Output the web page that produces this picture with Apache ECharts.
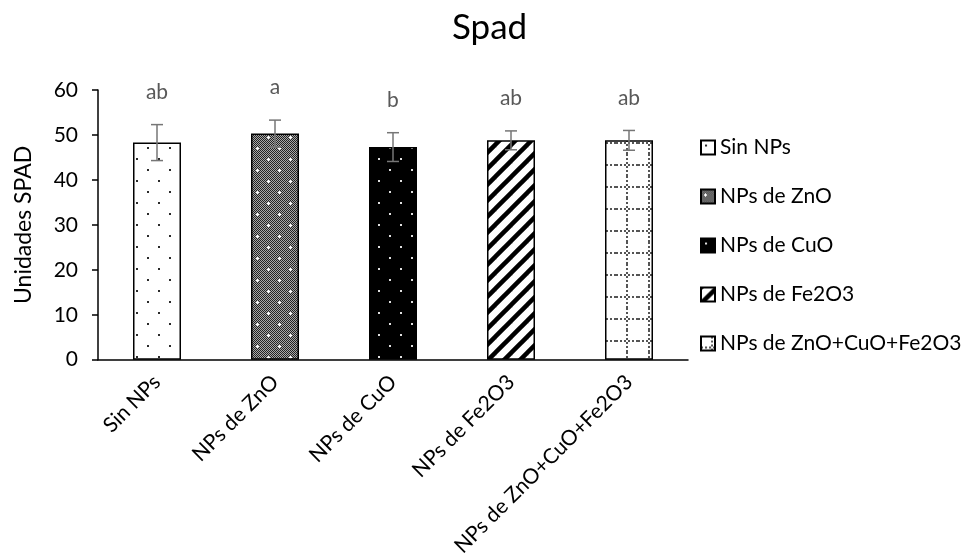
<!DOCTYPE html>
<html>
<head>
<meta charset="utf-8">
<script src="https://cdn.jsdelivr.net/npm/echarts@6/dist/echarts.min.js"></script>
<style>html,body{margin:0;padding:0;background:#fff}#c{width:963px;height:559px}</style>
</head>
<body>
<div id="c"></div>
<script>
const categories = ['Sin NPs', 'NPs de ZnO', 'NPs de CuO', 'NPs de Fe2O3', 'NPs de ZnO+CuO+Fe2O3'];
const means = [48.3, 50.3, 47.3, 48.8, 48.8];
const errors = [4.0, 3.0, 3.2, 2.1, 2.2];
const letters = ['ab', 'a', 'b', 'ab', 'ab'];
const yMin = 0, yMax = 60, yStep = 10;

const FONT = 'Lato';

function mk(w, h, draw) {
  const c = document.createElement('canvas');
  c.width = w; c.height = h;
  const g = c.getContext('2d');
  draw(g, w, h);
  return { image: c, repeat: 'repeat' };
}
const patterns = [
  mk(22, 22, (g) => { g.fillStyle = '#fff'; g.fillRect(0,0,22,22); g.fillStyle = '#2a2a2a'; g.fillRect(4,4,2,2); g.fillRect(15,15,2,2); }),
  mk(22, 22, (g) => {
    for (let y = 0; y < 22; y++) for (let x = 0; x < 22; x++) { g.fillStyle = ((x + y) % 2) ? '#a8a8a8' : '#222'; g.fillRect(x, y, 1, 1); }
    g.fillStyle = '#fff';
    [[4,5],[15,16]].forEach(([x,y]) => { g.fillRect(x-1,y,3,1); g.fillRect(x,y-1,1,3); });
  }),
  mk(22, 22, (g) => { g.fillStyle = '#000'; g.fillRect(0,0,22,22); g.fillStyle = '#e0e0e0'; g.fillRect(4,4,2,2); g.fillRect(15,15,2,2); }),
  mk(16, 16, (g) => {
    g.fillStyle = '#fff'; g.fillRect(0,0,16,16);
    g.strokeStyle = '#000'; g.lineWidth = 4.5;
    [[-16,0],[0,0],[16,0]].forEach(([ox]) => { g.beginPath(); g.moveTo(ox - 2, 18); g.lineTo(ox + 18, -2); g.stroke(); });
  }),
  mk(22, 22, (g) => {
    g.fillStyle = '#fff'; g.fillRect(0,0,22,22); g.fillStyle = '#555';
    for (let x = 0; x < 22; x += 4) g.fillRect(x, 10, 2, 2);
    for (let y = 0; y < 22; y += 4) g.fillRect(10, y, 2, 2);
  })
];

const series = categories.map((name, i) => ({
  type: 'bar', name: name, stack: 'all', barWidth: 48,
  data: categories.map((c, j) => (j === i ? means[i] : null)),
  itemStyle: { color: patterns[i], borderColor: '#000', borderWidth: 1.5 }
}));

series.push({
  type: 'custom', name: 'err', z: 10,
  data: categories.map((c, i) => [i, means[i], errors[i]]),
  renderItem: function (params, api) {
    const i = api.value(0), m = api.value(1), e = api.value(2);
    const t = api.coord([i, m + e]);
    const b = api.coord([i, m - e]);
    const hw = 6;
    const st = { stroke: '#767676', lineWidth: 1.5 };
    return {
      type: 'group', children: [
        { type: 'line', shape: { x1: t[0], y1: t[1], x2: b[0], y2: b[1] }, style: st },
        { type: 'line', shape: { x1: t[0] - hw, y1: t[1], x2: t[0] + hw, y2: t[1] }, style: st },
        { type: 'line', shape: { x1: b[0] - hw, y1: b[1], x2: b[0] + hw, y2: b[1] }, style: st },
        { type: 'text', style: { text: letters[params.dataIndex], x: t[0], y: t[1] - 22, align: 'center', verticalAlign: 'bottom', fill: '#595959', fontSize: 21, fontFamily: FONT } }
      ]
    };
  }
});

const chart = echarts.init(document.getElementById('c'));
chart.setOption({
  animation: false,
  backgroundColor: '#fff',
  title: { text: 'Spad', left: 447, top: 5, textStyle: { fontSize: 35, fontWeight: 'normal', color: '#000', fontFamily: FONT } },
  grid: { left: 98, right: 275, top: 90, bottom: 198 },
  legend: {
    data: categories, orient: 'vertical', left: 695, top: 132,
    itemWidth: 14, itemHeight: 14, itemGap: 28, icon: 'rect',
    textStyle: { fontSize: 21, color: '#000', fontFamily: FONT, lineHeight: 20 }
  },
  xAxis: {
    type: 'category', data: categories,
    axisLine: { lineStyle: { color: '#000', width: 1.5 } },
    axisTick: { show: false },
    axisLabel: { rotate: 45, fontSize: 21, color: '#000', fontFamily: FONT, margin: 19, interval: 0 }
  },
  yAxis: {
    type: 'value', min: yMin, max: yMax, interval: yStep,
    name: 'Unidades SPAD', nameLocation: 'middle', nameGap: 63, nameRotate: 90,
    nameTextStyle: { fontSize: 23, color: '#000', fontFamily: FONT },
    axisLine: { show: true, lineStyle: { color: '#000', width: 1.5 } },
    axisTick: { show: true, length: 6, lineStyle: { color: '#000', width: 1.5 } },
    splitLine: { show: false },
    axisLabel: { fontSize: 21, color: '#000', fontFamily: FONT, margin: 20 }
  },
  series: series
});
</script>
</body>
</html>
